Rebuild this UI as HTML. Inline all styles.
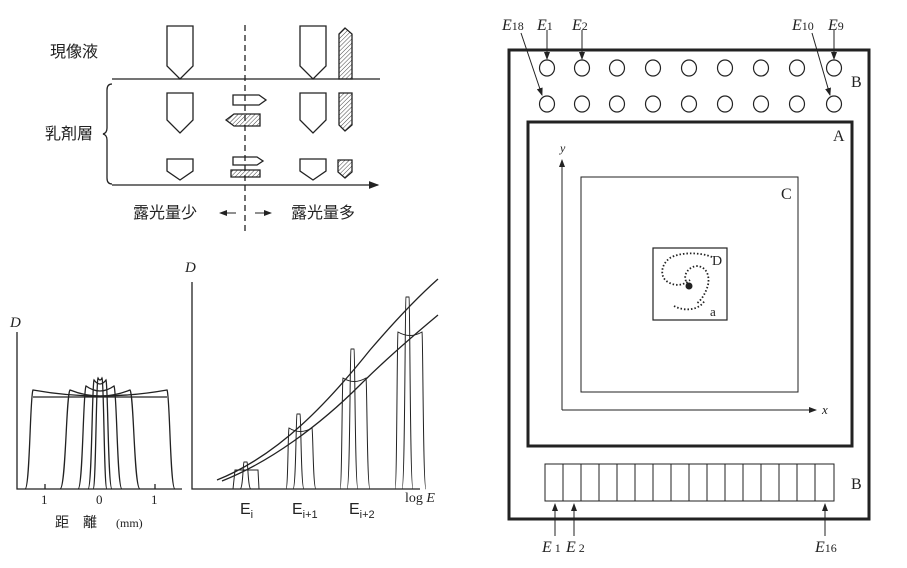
<!DOCTYPE html>
<html><head><meta charset="utf-8"><style>
html,body{margin:0;padding:0;background:#fff;}
svg{display:block;}
text{font-family:"Liberation Serif","Noto Serif CJK SC",serif;fill:#222;}
.cj{font-family:"Liberation Sans","Noto Sans CJK JP",sans-serif;}
</style></head><body>
<svg width="907" height="568" viewBox="0 0 907 568" xmlns="http://www.w3.org/2000/svg">
<defs>
<pattern id="h" width="3" height="3" patternUnits="userSpaceOnUse" patternTransform="rotate(45)"><line x1="0" y1="0" x2="0" y2="3" stroke="#444" stroke-width="1"/></pattern>
<marker id="ar" markerWidth="8" markerHeight="6" refX="7" refY="3" orient="auto"><path d="M0,0 L8,3 L0,6 z" fill="#222"/></marker>
</defs>
<g stroke="#222" fill="none" stroke-width="1.3">
<!-- top left diagram -->
<line x1="112" y1="79" x2="380" y2="79"/>
<line x1="112" y1="185" x2="378" y2="185" marker-end="url(#ar)"/>
<path d="M112,84 Q107,84 107,90 L107,128 Q107,133 103,134 Q107,135 107,140 L107,178 Q107,184 112,184"/>
<line x1="245" y1="25" x2="245" y2="232" stroke-dasharray="6,4"/>
<path d="M167,26 L193,26 L193,66 L180,79 L167,66 Z"/>
<path d="M300,26 L326,26 L326,66 L313,79 L300,66 Z"/>
<path d="M339,79 L339,34 L345,28 L352,34 L352,79 Z" fill="url(#h)"/>
<path d="M167,93 L193,93 L193,120 L180,133 L167,120 Z"/>
<path d="M300,93 L326,93 L326,120 L313,133 L300,120 Z"/>
<path d="M339,93 L352,93 L352,125 L345,131 L339,125 Z" fill="url(#h)"/>
<path d="M233,95 L259,95 L266,100 L259,105 L233,105 Z"/>
<path d="M260,114 L234,114 L226,120 L234,126 L260,126 Z" fill="url(#h)"/>
<path d="M167,159 L193,159 L193,171 L180,180 L167,171 Z"/>
<path d="M300,159 L326,159 L326,171 L313,180 L300,171 Z"/>
<path d="M338,160 L352,160 L352,172 L345,178 L338,172 Z" fill="url(#h)"/>
<path d="M233,157 L257,157 L263,161 L257,165 L233,165 Z"/>
<path d="M231,170 L260,170 L260,177 L231,177 Z" fill="url(#h)"/>
<line x1="236" y1="213" x2="220" y2="213" marker-end="url(#ar)" stroke-width="1"/>
<line x1="255" y1="213" x2="271" y2="213" marker-end="url(#ar)" stroke-width="1"/>

<!-- bottom left graph -->
<path d="M17,332 L17,489 L182,489"/>
<line x1="45" y1="484" x2="45" y2="489"/><line x1="155" y1="484" x2="155" y2="489"/>
<line x1="33" y1="397" x2="167" y2="397"/>
<path d="M25,489 C30,489 30,395 33,390 Q100,402 167,390 C170,395 170,489 175,489"/>
<path d="M60,489 C66,489 66,395 70,390 Q100,402 130,390 C134,395 134,489 140,489"/>
<path d="M78,489 C83,489 83,392 86,386 Q100,396 114,386 C117,392 117,489 122,489"/>
<path d="M88,489 C92,489 92,385 94,380 Q100,388 106,380 C108,385 108,489 112,489"/>
<path d="M93,489 C96,489 96,382 98,378 Q100,382 102,378 C104,382 104,489 107,489"/>

<!-- bottom right graph -->
<path d="M192,282 L192,489 L420,489"/>
<path d="M217,480 C280,455 330,400 370,350 C400,315 420,295 438,279"/>
<path d="M222,481 C270,462 320,425 360,385 C390,355 420,330 438,315"/>
<g stroke-width="1">
<path d="M233,489 L235,470 L258,470 L259,489"/>
<path d="M240,489 C243,489 243,463 244,462 L247,462 C248,463 248,489 251,489"/>
<path d="M286,489 C288,489 288,430 289,428 Q300,435 312,428 C313,430 313,489 316,489"/>
<path d="M293,489 C296,489 296,415 297,414 L300,414 C301,415 301,489 304,489"/>
<path d="M340,489 C342,489 342,380 343,378 Q354,385 366,378 C367,380 367,489 370,489"/>
<path d="M347,489 C350,489 350,350 351,349 L354,349 C355,350 355,489 358,489"/>
<path d="M395,489 C397,489 397,334 398,332 Q410,339 422,332 C423,334 423,489 426,489"/>
<path d="M402,489 C405,489 405,298 406,297 L409,297 C410,298 410,489 413,489"/>
</g>

<!-- right diagram -->
<rect x="509" y="50" width="360" height="469" stroke-width="3"/>
<rect x="528" y="122" width="324" height="324" stroke-width="3"/>
<rect x="581" y="177" width="217" height="215" stroke-width="1"/>
<rect x="653" y="248" width="74" height="72" stroke-width="1.2"/>
<line x1="562" y1="410" x2="562" y2="160" marker-end="url(#ar)" stroke-width="1"/>
<line x1="562" y1="410" x2="816" y2="410" marker-end="url(#ar)" stroke-width="1"/>
<g stroke-width="1.2">
<ellipse cx="547" cy="68" rx="7.5" ry="8"/><ellipse cx="582" cy="68" rx="7.5" ry="8"/><ellipse cx="617" cy="68" rx="7.5" ry="8"/><ellipse cx="653" cy="68" rx="7.5" ry="8"/><ellipse cx="689" cy="68" rx="7.5" ry="8"/><ellipse cx="725" cy="68" rx="7.5" ry="8"/><ellipse cx="761" cy="68" rx="7.5" ry="8"/><ellipse cx="797" cy="68" rx="7.5" ry="8"/><ellipse cx="834" cy="68" rx="7.5" ry="8"/>
<ellipse cx="547" cy="104" rx="7.5" ry="8"/><ellipse cx="582" cy="104" rx="7.5" ry="8"/><ellipse cx="617" cy="104" rx="7.5" ry="8"/><ellipse cx="653" cy="104" rx="7.5" ry="8"/><ellipse cx="689" cy="104" rx="7.5" ry="8"/><ellipse cx="725" cy="104" rx="7.5" ry="8"/><ellipse cx="761" cy="104" rx="7.5" ry="8"/><ellipse cx="797" cy="104" rx="7.5" ry="8"/><ellipse cx="834" cy="104" rx="7.5" ry="8"/>
</g>
<g stroke-width="1">
<line x1="547" y1="30" x2="547" y2="59" marker-end="url(#ar)"/>
<line x1="582" y1="30" x2="582" y2="59" marker-end="url(#ar)"/>
<line x1="834" y1="30" x2="834" y2="59" marker-end="url(#ar)"/>
<line x1="521" y1="33" x2="542" y2="95" marker-end="url(#ar)"/>
<line x1="812" y1="33" x2="830" y2="95" marker-end="url(#ar)"/>
<line x1="555" y1="536" x2="555" y2="504" marker-end="url(#ar)"/>
<line x1="574" y1="536" x2="574" y2="504" marker-end="url(#ar)"/>
<line x1="825" y1="536" x2="825" y2="504" marker-end="url(#ar)"/>
</g>
<rect x="545" y="464" width="289" height="37" stroke-width="1"/>
<g stroke-width="1">
<line x1="563" y1="464" x2="563" y2="501"/><line x1="581" y1="464" x2="581" y2="501"/><line x1="599" y1="464" x2="599" y2="501"/><line x1="617" y1="464" x2="617" y2="501"/><line x1="635" y1="464" x2="635" y2="501"/><line x1="653" y1="464" x2="653" y2="501"/><line x1="671" y1="464" x2="671" y2="501"/><line x1="689" y1="464" x2="689" y2="501"/><line x1="707" y1="464" x2="707" y2="501"/><line x1="725" y1="464" x2="725" y2="501"/><line x1="743" y1="464" x2="743" y2="501"/><line x1="761" y1="464" x2="761" y2="501"/><line x1="779" y1="464" x2="779" y2="501"/><line x1="797" y1="464" x2="797" y2="501"/><line x1="815" y1="464" x2="815" y2="501"/>
</g>
<path d="M712,257 C700,252 680,252 670,258 C660,265 660,278 668,282 C676,287 684,285 690,280 M688,284 C682,278 686,268 696,266 C706,266 710,275 708,285 C706,292 702,300 696,304 M674,306 C685,312 700,310 705,300" stroke-dasharray="1.5,2" stroke-width="1.8"/>
<circle cx="689" cy="286" r="3.5" fill="#222" stroke="none"/>
</g>
<!-- text -->
<g font-size="16" class="cj">
<text x="50" y="57" class="cj">現像液</text>
<text x="45" y="139" class="cj">乳剤層</text>
<text x="133" y="218" class="cj">露光量少</text>
<text x="291" y="218" class="cj">露光量多</text>
</g>
<text x="10" y="327" font-size="15" font-style="italic">D</text>
<text x="185" y="272" font-size="15" font-style="italic">D</text>
<text x="41" y="504" font-size="13">1</text><text x="96" y="504" font-size="13">0</text><text x="151" y="504" font-size="13">1</text>
<text x="55" y="527" font-size="14" class="cj">距　離</text><text x="116" y="527" font-size="12">(mm)</text>
<text x="405" y="502" font-size="14">log <tspan font-style="italic">E</tspan></text>
<g font-family="Liberation Sans" font-size="16"><text x="240" y="514" style="font-family:'Liberation Sans'">E<tspan font-size="11" dy="4">i</tspan></text>
<text x="292" y="514" style="font-family:'Liberation Sans'">E<tspan font-size="11" dy="4">i+1</tspan></text>
<text x="349" y="514" style="font-family:'Liberation Sans'">E<tspan font-size="11" dy="4">i+2</tspan></text></g>
<g font-size="16" font-style="italic">
<text x="502" y="30">E<tspan font-size="12" font-style="normal">18</tspan></text>
<text x="537" y="30">E<tspan font-size="12" font-style="normal">1</tspan></text>
<text x="572" y="30">E<tspan font-size="12" font-style="normal">2</tspan></text>
<text x="792" y="30">E<tspan font-size="12" font-style="normal">10</tspan></text>
<text x="828" y="30">E<tspan font-size="12" font-style="normal">9</tspan></text>
<text x="542" y="552">E<tspan font-size="12" font-style="normal"> 1</tspan></text>
<text x="566" y="552">E<tspan font-size="12" font-style="normal"> 2</tspan></text>
<text x="815" y="552">E<tspan font-size="12" font-style="normal">16</tspan></text>
<text x="560" y="152" font-size="12">y</text>
<text x="822" y="414" font-size="13">x</text>
</g>
<g font-size="16">
<text x="851" y="87">B</text><text x="851" y="489">B</text>
<text x="833" y="141">A</text><text x="781" y="199">C</text>
<text x="712" y="265" font-size="14">D</text><text x="710" y="316" font-size="13">a</text>
</g>
</svg>
</body></html>
